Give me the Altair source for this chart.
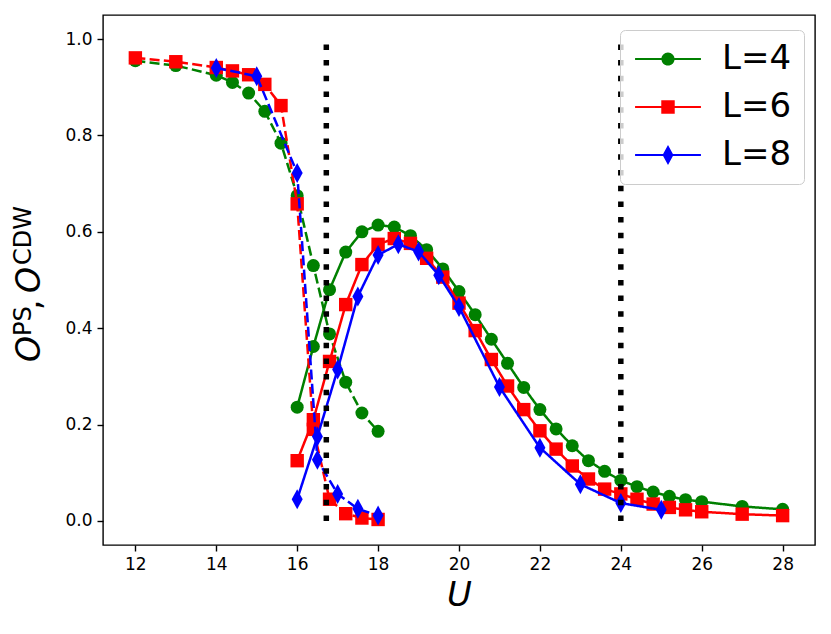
import altair as alt
import pandas as pd

# ---------------- data ----------------
LABELS = ["L=4", "L=6", "L=8"]

U_PS_L4 = [12, 13, 14, 14.4, 14.8, 15.2, 15.6, 16, 16.4, 16.8, 17.2, 17.6, 18]
PS_L4 = [0.955, 0.945, 0.925, 0.91, 0.888, 0.85, 0.784, 0.675, 0.53, 0.388, 0.288, 0.224, 0.186]

U_PS_L6 = [12, 13, 14, 14.4, 14.8, 15.2, 15.6, 16, 16.4, 16.8, 17.2, 17.6, 18]
PS_L6 = [0.961, 0.953, 0.941, 0.934, 0.926, 0.906, 0.862, 0.658, 0.19, 0.045, 0.015, 0.006, 0.003]

U_PS_L8 = [14, 15, 16, 16.5, 17, 17.5, 18]
PS_L8 = [0.94, 0.923, 0.722, 0.127, 0.056, 0.025, 0.011]

U_CDW_L4 = [16, 16.4, 16.8, 17.2, 17.6, 18, 18.4, 18.8, 19.2, 19.6, 20, 20.4, 20.8, 21.2,
            21.6, 22, 22.4, 22.8, 23.2, 23.6, 24, 24.4, 24.8, 25.2, 25.6, 26, 27, 28]
CDW_L4 = [0.236, 0.362, 0.48, 0.558, 0.6, 0.614, 0.61, 0.592, 0.563, 0.523, 0.476, 0.428, 0.377,
          0.327, 0.277, 0.231, 0.191, 0.156, 0.125, 0.103, 0.084, 0.071, 0.06, 0.051, 0.044,
          0.04, 0.03, 0.024]

U_CDW_L6 = [16, 16.4, 16.8, 17.2, 17.6, 18, 18.4, 18.8, 19.2, 19.6, 20, 20.4, 20.8, 21.2,
            21.6, 22, 22.4, 22.8, 23.2, 23.6, 24, 24.4, 24.8, 25.2, 25.6, 26, 27, 28]
CDW_L6 = [0.125, 0.21, 0.331, 0.449, 0.532, 0.574, 0.586, 0.576, 0.545, 0.506, 0.452, 0.395,
          0.335, 0.28, 0.231, 0.187, 0.149, 0.114, 0.087, 0.066, 0.056, 0.045, 0.035, 0.028,
          0.023, 0.019, 0.014, 0.011]

U_CDW_L8 = [16, 16.5, 17, 17.5, 18, 18.5, 19, 19.5, 20, 21, 22, 23, 24, 25]
CDW_L8 = [0.045, 0.175, 0.314, 0.466, 0.552, 0.574, 0.559, 0.51, 0.444, 0.278, 0.152, 0.076,
          0.037, 0.023]

VLINES_U = [16.72, 24.0]
VLINE_LOW = [0.0, 0.0]
VLINE_HIGH = [1.0, 1.0]

X_TICKS = [12, 14, 16, 18, 20, 22, 24, 26, 28]
Y_TICKS = [0.0, 0.2, 0.4, 0.6, 0.8, 1.0]

# y-axis title pieces (O^PS, O^CDW): text, font size, style
TITLE_PIECES = [
    ("O", 33, "italic"), ("PS", 24, "normal"), (",", 33, "normal"),
    ("O", 33, "italic"), ("CDW", 24, "normal"),
]
# placement of the title pieces (pixels relative to the plot area)
TITLE_POS = [(-63, 347), (-72, 321), (-63, 295), (-63, 278), (-72, 250)]

# ---------------- build tables ----------------
rows = []
for L, kind, us, vs in [
    ("L=4", "CDW", U_CDW_L4, CDW_L4), ("L=4", "PS", U_PS_L4, PS_L4),
    ("L=6", "CDW", U_CDW_L6, CDW_L6), ("L=6", "PS", U_PS_L6, PS_L6),
    ("L=8", "CDW", U_CDW_L8, CDW_L8), ("L=8", "PS", U_PS_L8, PS_L8),
]:
    for u, v in zip(us, vs):
        rows.append({"U": u, "O": v, "L": L, "kind": kind})
df = pd.DataFrame(rows)
vdf = pd.DataFrame({"U": VLINES_U, "lo": VLINE_LOW, "hi": VLINE_HIGH})
one = pd.DataFrame({"k": [0]})

COLORS = {"L=4": "#008000", "L=6": "#ff0000", "L=8": "#0000ff"}
SHAPES = {"L=4": "circle", "L=6": "square", "L=8": "M0,-1L0.55,0L0,1L-0.55,0Z"}
SIZES = {"L=4": 169, "L=6": 180, "L=8": 400}

# legend symbols: a line segment with the marker on top
LINE_PART = "M-2.3,-0.075L2.3,-0.075L2.3,0.075L-2.3,0.075Z"
LEGEND_PATHS = [
    LINE_PART + " M0.46,0A0.46,0.46 0 1,1 -0.46,0A0.46,0.46 0 1,1 0.46,0Z",
    LINE_PART + " M-0.47,-0.47L0.47,-0.47L0.47,0.47L-0.47,0.47Z",
    LINE_PART + " M0,-0.7L0.38,0L0,0.7L-0.38,0Z",
]

x_enc = alt.X("U:Q", scale=alt.Scale(domain=[11.2, 28.8], nice=False, zero=False),
              axis=alt.Axis(values=X_TICKS, format="d", title="U", titleFontSize=34,
                            titleFontStyle="italic", labelPadding=5, titlePadding=6))
y_enc = alt.Y("O:Q", scale=alt.Scale(domain=[-0.05, 1.05], nice=False, zero=False),
              axis=alt.Axis(values=Y_TICKS, format=".1f", title=None, labelPadding=5))

base = alt.Chart(df)
layers = []
for L in LABELS:
    for kind in ["CDW", "PS"]:
        sub = base.transform_filter((alt.datum.L == L) & (alt.datum.kind == kind))
        dash = [10, 4.3] if kind == "PS" else [1, 0]
        layers.append(sub.mark_line(color=COLORS[L], strokeWidth=2.5, strokeDash=dash)
                      .encode(x=x_enc, y=y_enc))
        layers.append(sub.mark_point(shape=SHAPES[L], filled=True, color=COLORS[L],
                                     size=SIZES[L], opacity=1, strokeWidth=0)
                      .encode(x=x_enc, y=y_enc))

rules = alt.Chart(vdf).mark_rule(color="black", strokeWidth=5.5, strokeDash=[5.5, 10.2],
                                 strokeCap="butt").encode(
    x=alt.X("U:Q"), y=alt.Y("lo:Q"), y2="hi:Q")

legend_layer = base.transform_filter(alt.datum.U < 0).mark_point(
    filled=True, opacity=1, size=820, strokeWidth=0).encode(
    x=x_enc, y=y_enc,
    fill=alt.Fill("L:N", scale=alt.Scale(domain=LABELS, range=[COLORS[l] for l in LABELS]),
                  legend=alt.Legend(title=None)),
    shape=alt.Shape("L:N", scale=alt.Scale(domain=LABELS, range=LEGEND_PATHS),
                    legend=alt.Legend(title=None)),
)

title_layers = []
for (txt, fs, style), (px, py) in zip(TITLE_PIECES, TITLE_POS):
    title_layers.append(
        alt.Chart(one).mark_text(angle=270, align="left", baseline="alphabetic",
                                 font="DejaVu Sans", fontSize=fs, fontStyle=style,
                                 color="black")
        .encode(x=alt.value(px), y=alt.value(py), text=alt.value(txt))
    )

chart = alt.layer(*layers, rules, legend_layer, *title_layers).properties(
    width=712, height=530,
    autosize=alt.AutoSizeParams(type="none"),
    padding={"left": 95, "top": 7, "right": 8, "bottom": 81},
).configure_view(
    stroke="black", strokeWidth=1.4
).configure_axis(
    grid=False, domain=False, tickColor="black", tickSize=6, tickWidth=1.4,
    labelColor="black", labelFont="DejaVu Sans", labelFontSize=17,
    titleFont="DejaVu Sans", titleColor="black", titleFontWeight="normal",
).configure_legend(
    orient="none", legendX=517, legendY=15, padding=12,
    symbolOffset=19, labelOffset=37, rowPadding=14,
    fillColor="rgba(255,255,255,0.8)", strokeColor="#cccccc", cornerRadius=5,
    labelFont="DejaVu Sans", labelFontSize=34, labelColor="black",
    symbolSize=820, symbolStrokeWidth=0,
)

chart.save("out.html", embed_options={"renderer": "svg", "actions": False})
